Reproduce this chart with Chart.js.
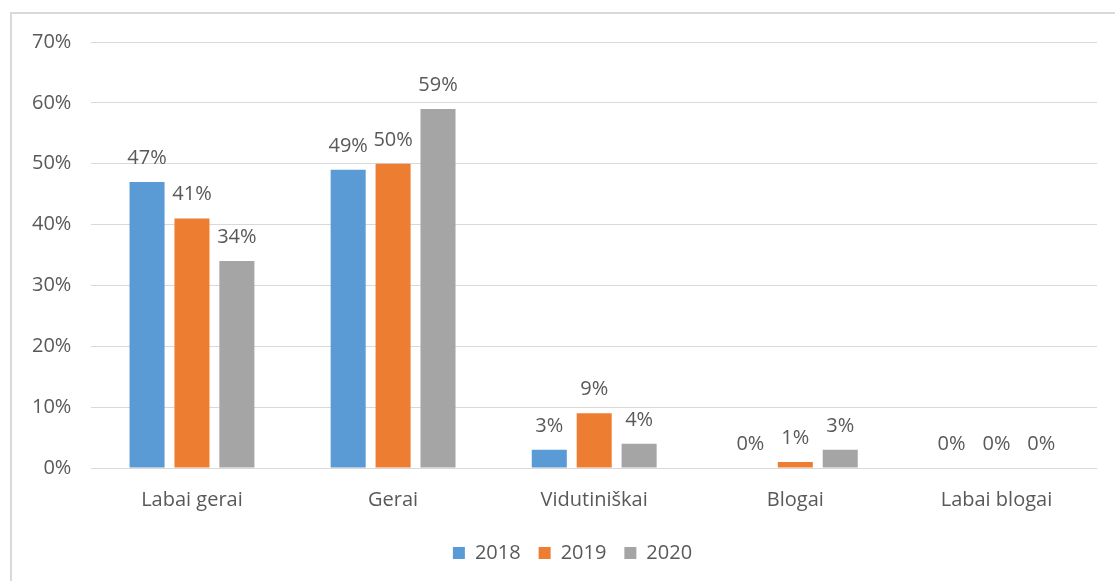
<!DOCTYPE html>
<html lang="lt">
<head>
  <meta charset="UTF-8">
  <title>Vertinimas 2018–2020</title>
  <script src="https://cdn.jsdelivr.net/npm/chart.js"></script>
  <style>
    body {
      margin: 0;
      padding: 0;
      background: white;
      overflow: hidden;
    }

    #wrap {
      position: relative;
      width: 1115px;
      height: 581px;
    }

    /* rėmelis kaip Excel diagramoje */
    .frame {
      position: absolute;
      left: 10px;
      top: 12px;
      right: 0;
      bottom: -10px;
      border-left: 2px solid #d9d9d9;
      border-top: 2px solid #d9d9d9;
      pointer-events: none;
    }
  </style>
</head>
<body>
  <div id="wrap">
    <canvas id="chart" width="1115" height="581"></canvas>
    <div class="frame"></div>
  </div>

  <script>
    const kategorijos = ['Labai gerai', 'Gerai', 'Vidutiniškai', 'Blogai', 'Labai blogai'];
    const metai = ['2018', '2019', '2020'];
    const v2018 = [47, 49, 3, 0, 0];
    const v2019 = [41, 50, 9, 1, 0];
    const v2020 = [34, 59, 4, 3, 0];
    const spalvos = ['#5b9bd5', '#ed7d31', '#a5a5a5'];

    const tekstoSpalva = '#595959';
    const sriftas = "'Open Sans', sans-serif";

    // reikšmės virš stulpelių
    const reiksmes = {
      id: 'reiksmes',
      afterDatasetsDraw(chart) {
        const c = chart.ctx;
        c.save();
        c.font = '20px ' + sriftas;
        c.fillStyle = tekstoSpalva;
        c.textAlign = 'center';
        c.textBaseline = 'alphabetic';
        chart.data.datasets.forEach((ds, i) => {
          const meta = chart.getDatasetMeta(i);
          meta.data.forEach((bar, j) => {
            c.fillText(ds.data[j] + '%', bar.x, bar.y - 18);
          });
        });
        c.restore();
      }
    };

    // legenda šiek tiek į dešinę, kaip originale
    const legendosPoslinkis = {
      id: 'legendosPoslinkis',
      afterLayout(chart) {
        chart.legend.left += 18;
        chart.legend.right += 18;
      }
    };

    const ctx = document.getElementById('chart').getContext('2d');
    new Chart(ctx, {
      type: 'bar',
      data: {
        labels: kategorijos,
        datasets: [
          { label: metai[0], data: v2018, backgroundColor: spalvos[0] },
          { label: metai[1], data: v2019, backgroundColor: spalvos[1] },
          { label: metai[2], data: v2020, backgroundColor: spalvos[2] }
        ]
      },
      options: {
        responsive: false,
        animation: false,
        categoryPercentage: 0.67,
        barPercentage: 0.78,
        layout: {
          padding: { left: 12, right: 18, top: 42, bottom: 8 }
        },
        plugins: {
          legend: {
            position: 'bottom',
            labels: {
              color: tekstoSpalva,
              font: { family: sriftas, size: 20 },
              boxWidth: 12,
              boxHeight: 12,
              padding: 18
            }
          },
          tooltip: { enabled: false }
        },
        scales: {
          x: {
            grid: { display: false },
            border: { display: false },
            ticks: {
              color: tekstoSpalva,
              font: { family: sriftas, size: 20 },
              padding: 12.5
            }
          },
          y: {
            min: 0,
            max: 70,
            ticks: {
              stepSize: 10,
              color: tekstoSpalva,
              font: { family: sriftas, size: 20 },
              padding: 20,
              callback: v => v + '%'
            },
            grid: { color: '#d9d9d9', drawTicks: false },
            border: { display: false }
          }
        }
      },
      plugins: [reiksmes, legendosPoslinkis]
    });
  </script>
</body>
</html>
